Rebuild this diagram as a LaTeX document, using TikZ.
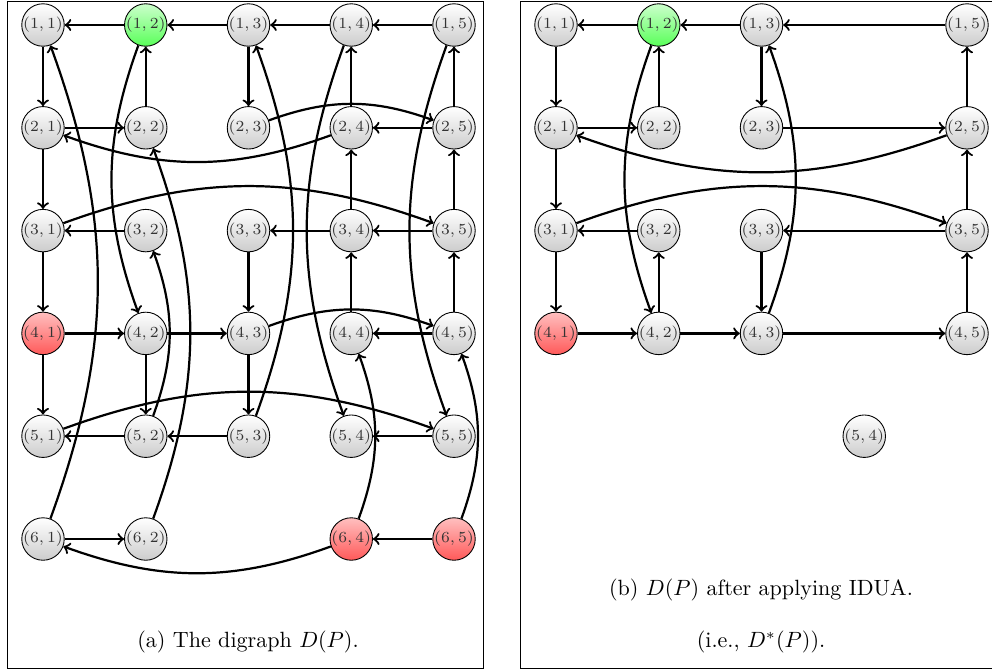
\documentclass[tikz,border=0pt]{standalone}
\usetikzlibrary{arrows}
\tikzset{
  vtx/.style={circle,draw,thin,minimum size=14pt,inner sep=0pt,top color=white,bottom color=gray!40,
    font=\fontsize{6.6}{7}\selectfont,text=black!80},
  grn/.style={vtx,top color=green!20,bottom color=green!65},
  rd/.style={vtx,top color=red!25,bottom color=red!65},
  edg/.style={->,line width=1pt},
}
\begin{document}
\begin{tikzpicture}[x=0.453pt,y=-0.453pt,>=to]
\useasboundingbox (0,0) rectangle (992,670);
\draw (7,1) rectangle (483,668);
\draw (520,1) rectangle (1010,668);
% (a) the digraph
\foreach \r/\c/\s in {1/1/vtx,1/2/grn,1/3/vtx,1/4/vtx,1/5/vtx,
  2/1/vtx,2/2/vtx,2/3/vtx,2/4/vtx,2/5/vtx,
  3/1/vtx,3/2/vtx,3/3/vtx,3/4/vtx,3/5/vtx,
  4/1/rd,4/2/vtx,4/3/vtx,4/4/vtx,4/5/vtx,
  5/1/vtx,5/2/vtx,5/3/vtx,5/4/vtx,5/5/vtx,
  6/1/vtx,6/2/vtx,6/4/rd,6/5/rd}
  \node[\s] (a\r\c) at ({43+102.75*(\c-1)},{25+102.8*(\r-1)}) {$(\r,\c)$};
\foreach \u/\v in {12/11,13/12,14/13,15/14,11/21,21/31,31/41,41/51,
  21/22,22/12,13/23,25/24,24/14,25/15,32/31,34/33,35/34,34/24,44/34,
  35/25,45/35,45/44,33/43,41/42,42/43,42/52,43/53,52/51,53/52,55/54,
  61/62,65/64}
  \draw[edg] (a\u) -- (a\v);
\foreach \u/\v in {23/25,24/21,31/35,43/45,51/55,64/61}
  \draw[edg] (a\u) to[bend left=20] (a\v);
\foreach \u/\v in {61/11,12/42,62/22,52/32,53/13,14/54,15/55,64/44,65/45}
  \draw[edg] (a\u) to[bend right=20] (a\v);
\node (capa) at (248,642) {(a) The digraph $D(P)$.};
% (b) after IDUA
\foreach \r/\c/\s in {1/1/vtx,1/2/grn,1/3/vtx,1/5/vtx,
  2/1/vtx,2/2/vtx,2/3/vtx,2/5/vtx,
  3/1/vtx,3/2/vtx,3/3/vtx,3/5/vtx,
  4/1/rd,4/2/vtx,4/3/vtx,4/5/vtx,5/4/vtx}
  \node[\s] (b\r\c) at ({556+102.75*(\c-1)},{25+102.8*(\r-1)}) {$(\r,\c)$};
\foreach \u/\v in {12/11,13/12,15/13,11/21,21/22,22/12,13/23,23/25,
  25/15,21/31,32/31,35/33,35/25,45/35,31/41,42/32,33/43,41/42,42/43,43/45}
  \draw[edg] (b\u) -- (b\v);
\foreach \u/\v in {25/21,31/35}
  \draw[edg] (b\u) to[bend left=20] (b\v);
\foreach \u/\v in {12/42,43/13}
  \draw[edg] (b\u) to[bend right=20] (b\v);
\node (capb) at (761,590) {(b) $D(P)$ after applying IDUA.};
\node (capc) at (761,642) {(i.e., $D^*(P)$).};
\end{tikzpicture}
\end{document}
